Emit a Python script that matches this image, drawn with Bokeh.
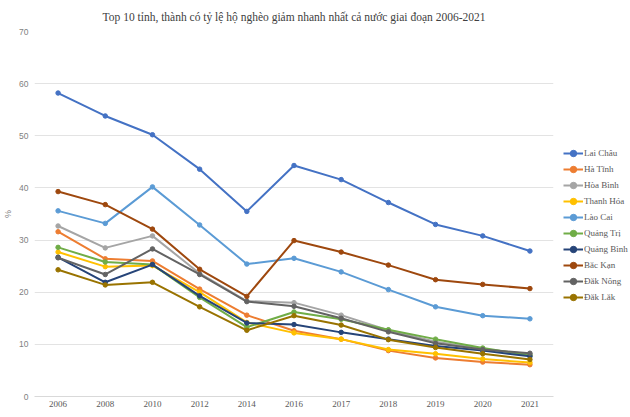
from bokeh.plotting import figure
from bokeh.models import Legend, LegendItem, Range1d, SingleIntervalTicker
from bokeh.embed import file_html
from bokeh.resources import INLINE

years = ["2006", "2008", "2010", "2012", "2014", "2016", "2017", "2018", "2019", "2020", "2021"]

lai_chau   = [58.2, 53.8, 50.2, 43.6, 35.5, 44.3, 41.6, 37.2, 33.0, 30.8, 27.9]
ha_tinh    = [31.6, 26.4, 26.0, 20.6, 15.6, 12.6, 11.0, 8.8, 7.4, 6.6, 6.1]
hoa_binh   = [32.7, 28.5, 30.8, 23.6, 18.3, 18.0, 15.6, 12.7, 10.5, 9.1, 8.1]
thanh_hoa  = [27.7, 24.9, 25.1, 20.0, 14.2, 12.2, 11.0, 9.0, 8.2, 7.2, 6.5]
lao_cai    = [35.6, 33.2, 40.2, 32.9, 25.4, 26.5, 23.9, 20.5, 17.2, 15.5, 14.9]
quang_tri  = [28.6, 25.8, 25.3, 19.0, 13.3, 16.2, 14.8, 12.8, 11.0, 9.3, 7.9]
quang_binh = [26.7, 21.9, 25.3, 19.3, 14.1, 13.8, 12.3, 11.0, 9.7, 8.8, 7.7]
bac_kan    = [39.3, 36.8, 32.1, 24.4, 19.2, 29.9, 27.7, 25.2, 22.4, 21.5, 20.7]
dak_nong   = [26.6, 23.4, 28.3, 23.4, 18.2, 17.3, 15.0, 12.4, 10.2, 9.0, 8.3]
dak_lak    = [24.3, 21.4, 21.9, 17.2, 12.7, 15.5, 13.7, 10.9, 9.4, 8.2, 7.1]

series_names = ["Lai Châu", "Hà Tĩnh", "Hòa Bình", "Thanh Hóa", "Lào Cai",
                "Quảng Trị", "Quảng Bình", "Bắc Kạn", "Đắk Nông", "Đắk Lắk"]
series_values = [lai_chau, ha_tinh, hoa_binh, thanh_hoa, lao_cai,
                 quang_tri, quang_binh, bac_kan, dak_nong, dak_lak]
colors = ["#4472C4", "#ED7D31", "#A5A5A5", "#FFC000", "#5B9BD5",
          "#70AD47", "#264478", "#9E480E", "#636363", "#997300"]

p = figure(x_range=years, frame_width=519, frame_height=365,
           min_border_left=28, min_border_right=67, min_border_top=22, min_border_bottom=0,
           output_backend="svg", toolbar_location=None,
           title="Top 10 tỉnh, thành có tỷ lệ hộ nghèo giảm nhanh nhất cả nước giai đoạn 2006-2021")
p.y_range = Range1d(0, 70)
p.outline_line_color = None
p.background_fill_color = "white"

p.title.align = "center"
p.title.offset = 20
p.title.standoff = 17
p.title.text_font = "Liberation Serif"
p.title.text_font_size = "11.5px"
p.title.text_font_style = "normal"
p.title.text_color = "#404040"

p.yaxis.ticker = SingleIntervalTicker(interval=10)
p.yaxis.axis_line_color = None
p.yaxis.major_tick_line_color = None
p.yaxis.minor_tick_line_color = None
p.yaxis.major_tick_out = 0
p.yaxis.minor_tick_out = 0
p.yaxis.major_label_text_font = "Liberation Sans"
p.yaxis.major_label_text_font_size = "8.5px"
p.yaxis.major_label_text_color = "#7f7f7f"
p.yaxis.major_label_standoff = 6
p.yaxis.axis_label = "%"
p.yaxis.axis_label_text_font = "Liberation Sans"
p.yaxis.axis_label_text_font_size = "9px"
p.yaxis.axis_label_text_font_style = "normal"
p.yaxis.axis_label_text_color = "#7f7f7f"
p.yaxis.axis_label_standoff = 3

p.xaxis.axis_line_color = "#d9d9d9"
p.xaxis.major_tick_line_color = None
p.xaxis.minor_tick_line_color = None
p.xaxis.major_tick_out = 0
p.xaxis.minor_tick_out = 0
p.xaxis.major_label_text_font = "Liberation Serif"
p.xaxis.major_label_text_font_size = "9px"
p.xaxis.major_label_text_color = "#595959"
p.xaxis.major_label_standoff = 4

p.xgrid.grid_line_color = None
p.ygrid.grid_line_color = "#e3e3e3"
p.ygrid.grid_line_width = 1

items = []
for name, vals, col in zip(series_names, series_values, colors):
    r1 = p.line(years, vals, line_color=col, line_width=2)
    r2 = p.scatter(years, vals, fill_color=col, line_color=col, size=4.5)
    items.append(LegendItem(label=name, renderers=[r1, r2]))

legend = Legend(items=items, location=(10, 91), orientation="vertical",
                background_fill_alpha=0, border_line_alpha=0,
                padding=0, margin=0, spacing=0,
                glyph_width=20, glyph_height=16, label_height=16,
                label_standoff=1,
                label_text_font="Liberation Serif", label_text_font_size="9px",
                label_text_color="#595959")
p.add_layout(legend, "right")

open("out.html", "w").write(file_html(p, INLINE))
